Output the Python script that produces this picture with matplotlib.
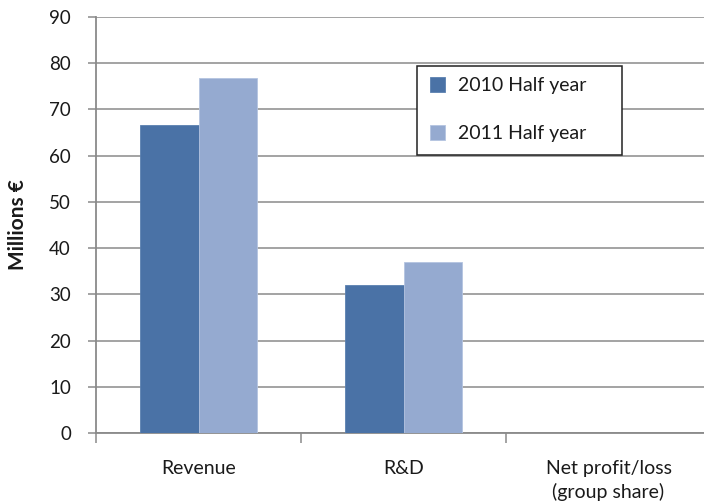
import numpy as np
import matplotlib.pyplot as plt
from matplotlib.patches import Rectangle

plt.rcParams['font.family'] = ['Lato', 'DejaVu Sans']

categories = ['Revenue', 'R&D', 'Net profit/loss\n(group share)']
series_names = ['2010 Half year', '2011 Half year']
h1_2010 = [66.5, 32.0, 0.0]
h1_2011 = [76.7, 36.9, 0.0]
yticks = list(range(0, 100, 10))

dark = '#4a72a6'
light = '#95aad0'
grid_c = '#8a8a8a'
txt_c = '#1a1a1a'

W, H = 704, 503
fig = plt.figure(figsize=(W / 100, H / 100), dpi=100)
ax = fig.add_axes([96 / W, 1 - 433.3 / H, 1 - 96 / W, (433.3 - 16.7) / H])

x = np.arange(len(categories))
bw = 0.285
b1 = ax.bar(x - bw / 2, h1_2010, bw, color=dark, edgecolor='#5a80b0', linewidth=0.6, zorder=3)
b2 = ax.bar(x + bw / 2, h1_2011, bw, color=light, edgecolor='#b4c4e0', linewidth=0.6, zorder=3)

ax.set_ylim(0, 90)
ax.set_xlim(-0.5, -0.5 + (W - 96) / 205)
ax.set_yticks(yticks)
ax.yaxis.grid(True, color=grid_c, linewidth=1.1, zorder=0)
ax.set_axisbelow(True)

ax.set_xticks(x)
ax.set_xticklabels(categories, fontsize=14, color=txt_c, linespacing=1.4)
ax.set_xticks([-0.5, 0.5, 1.5], minor=True)
ax.tick_params(axis='x', which='major', length=0, pad=19)
ax.tick_params(axis='x', which='minor', length=7, width=1.1, color=grid_c, direction='out')
ax.tick_params(axis='y', length=6, width=1.1, color=grid_c, pad=12, labelsize=13.5, labelcolor=txt_c)

for side in ['top', 'right']:
    ax.spines[side].set_visible(False)
for side in ['left', 'bottom']:
    ax.spines[side].set_color(grid_c)
    ax.spines[side].set_linewidth(1.3)

fig.text(18 / W, 1 - 225 / H, 'Millions €', rotation=90, ha='center', va='center',
         fontsize=15, fontweight='bold', color=txt_c)

# legend box with fixed size
fig.patches.append(Rectangle((417 / W, 1 - 154.5 / H), (622 - 417) / W, (154.5 - 65.7) / H,
                             transform=fig.transFigure, facecolor='white',
                             edgecolor='#222222', linewidth=1.1, zorder=5))
leg = fig.legend([b1, b2], series_names, loc='upper left',
                 bbox_to_anchor=(424 / W, 1 - 71 / H), bbox_transform=fig.transFigure,
                 frameon=False, fontsize=14, handlelength=0.8, handleheight=0.8,
                 handletextpad=0.65, labelspacing=1.6, borderpad=0.3, borderaxespad=0)
leg.set_zorder(6)
for t in leg.get_texts():
    t.set_color(txt_c)

fig.savefig('out.png', dpi=100)
